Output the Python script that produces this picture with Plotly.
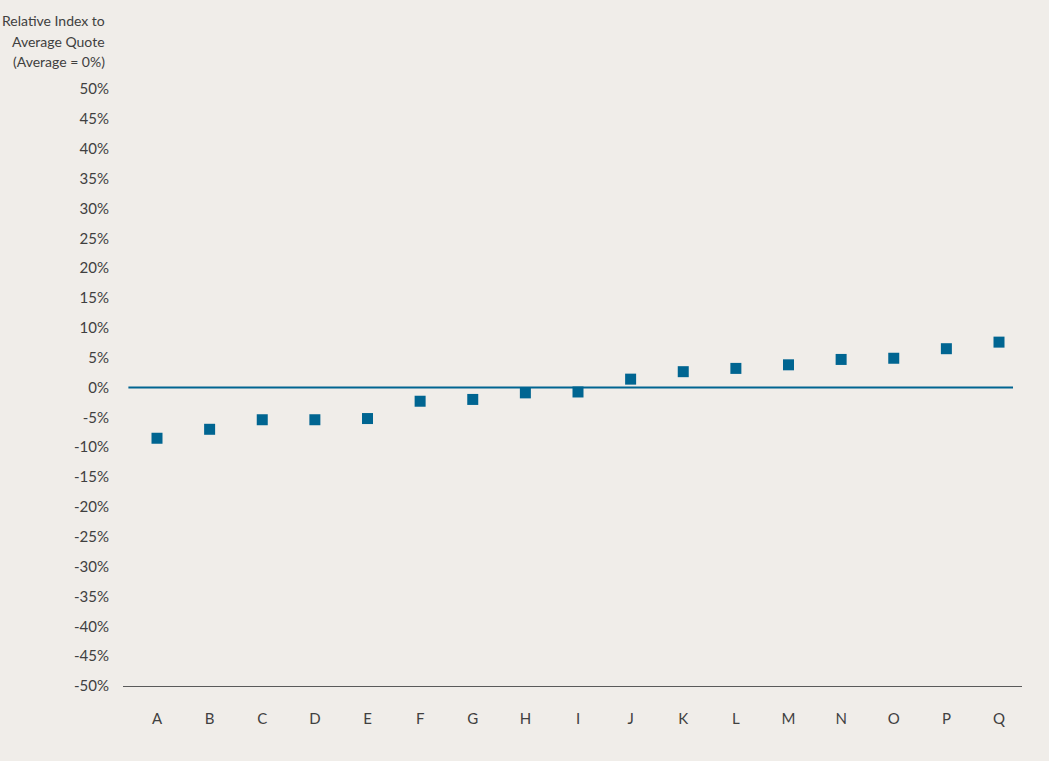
import plotly.graph_objects as go

categories = ["A", "B", "C", "D", "E", "F", "G", "H", "I", "J", "K", "L", "M", "N", "O", "P", "Q"]
values = [-8.5, -7.0, -5.4, -5.4, -5.2, -2.3, -2.0, -0.9, -0.75, 1.4, 2.65, 3.2, 3.8, 4.7, 4.9, 6.5, 7.6]
y_ticks = list(range(-50, 55, 5))
y_tick_labels = [f"{v}%" for v in y_ticks]
title_lines = ["Relative Index to", "Average Quote", "(Average = 0%)"]

BG = "#f0ede9"
BLUE = "#006591"
TEXT = "#404040"
FONT = "Lato"

fig = go.Figure()
fig.add_trace(go.Scatter(
    x=categories, y=values, mode="markers",
    marker=dict(symbol="square", size=11, color=BLUE, line=dict(width=0)),
    hoverinfo="x+y",
))

fig.add_shape(type="line", xref="paper", yref="y", x0=0.006, x1=0.99, y0=0, y1=0,
              line=dict(color=BLUE, width=2), layer="below")

PLOT_TOP = 89
PLOT_H = 597
annotations = []
for i, line in enumerate(title_lines):
    yc = 20 + 21 * i
    annotations.append(dict(
        xref="paper", yref="paper", x=-16 / 899, y=1 + (PLOT_TOP - yc) / PLOT_H,
        xanchor="right", yanchor="middle", align="right", showarrow=False,
        text=line, font=dict(family=FONT, size=14, color=TEXT),
    ))

fig.update_layout(
    width=1049, height=761,
    paper_bgcolor=BG, plot_bgcolor=BG,
    margin=dict(l=123, r=27, t=PLOT_TOP, b=75),
    font=dict(family=FONT, size=15, color=TEXT),
    showlegend=False,
    xaxis=dict(
        type="category", range=[-0.646, 16.437],
        showgrid=False, zeroline=False,
        showline=True, linecolor="#5a5a5a", linewidth=1,
        ticks="", ticklabelstandoff=19,
        tickfont=dict(family=FONT, size=15, color=TEXT),
        fixedrange=True,
    ),
    yaxis=dict(
        range=[-50, 50], tickvals=y_ticks, ticktext=y_tick_labels,
        showgrid=False, zeroline=False, showline=False,
        ticks="", ticklabelstandoff=13,
        tickfont=dict(family=FONT, size=15, color=TEXT),
        fixedrange=True,
    ),
    annotations=annotations,
)

fig.write_html("out.html", config={"displayModeBar": False},
               post_script="document.body.style.margin='0';document.body.style.overflow='hidden';")
